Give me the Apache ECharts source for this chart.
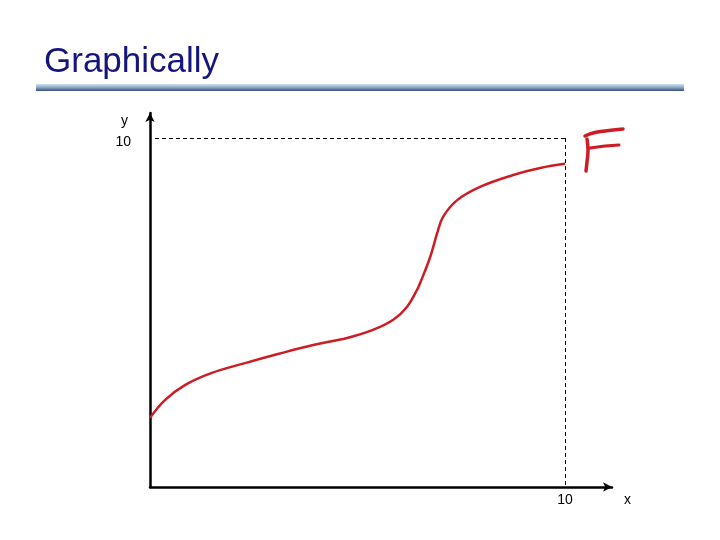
<!DOCTYPE html>
<html>
<head>
<meta charset="utf-8">
<script src="https://cdn.jsdelivr.net/npm/echarts@6/dist/echarts.min.js"></script>
<style>html,body{margin:0;padding:0;background:#fff;}#c{width:720px;height:540px;}</style>
</head>
<body>
<div id="c"></div>
<script>
// Curve F(x)
const xValues = [0, 0.36, 0.84, 1.49, 2.29, 3.08, 3.93, 4.75, 5.37, 5.86, 6.19, 6.43, 6.51, 6.75, 6.92, 7.06, 7.40, 7.95, 8.75, 9.40, 10.0];
const yValues = [1.98, 2.49, 2.92, 3.27, 3.55, 3.81, 4.07, 4.27, 4.50, 4.79, 5.16, 5.64, 5.85, 6.59, 7.28, 7.74, 8.22, 8.60, 8.94, 9.14, 9.26];
const xTickLabels = ['10'];
const yTickLabels = ['10'];
const refX = 10, refY = 10;

const FONT = 'Liberation Sans, Arial, sans-serif';
const chart = echarts.init(document.getElementById('c'), null, {renderer: 'canvas'});
const data = xValues.map((x, i) => [x, yValues[i]]);

chart.setOption({
  animation: false,
  backgroundColor: '#ffffff',
  title: {
    text: 'Graphically',
    left: 44, top: 45, padding: 0,
    textStyle: {fontFamily: FONT, fontSize: 35, fontWeight: 'normal', color: '#15157c'}
  },
  graphic: [
    {type: 'rect', shape: {x: 36, y: 84, width: 648, height: 7},
     style: {fill: new echarts.graphic.LinearGradient(0, 0, 0, 1, [
       {offset: 0, color: '#cfe6ea'}, {offset: 0.5, color: '#8ea6c4'}, {offset: 1, color: '#3b4d7e'}])}},
    // hand-drawn red "F" annotation
    {type: 'polyline', shape: {points: [[585, 136], [593, 133], [605, 131], [623, 129]], smooth: 0.4},
     style: {stroke: '#cc1c24', lineWidth: 3.5, fill: null, lineCap: 'round'}},
    {type: 'polyline', shape: {points: [[587, 139], [588, 150], [587, 162], [586, 171]], smooth: 0.4},
     style: {stroke: '#cc1c24', lineWidth: 3.5, fill: null, lineCap: 'round'}},
    {type: 'polyline', shape: {points: [[590, 148], [605, 146], [619, 145]]},
     style: {stroke: '#cc1c24', lineWidth: 3, fill: null, lineCap: 'round'}}
  ],
  grid: {left: 150, right: 108, top: 113, bottom: 53, containLabel: false},
  xAxis: {
    type: 'value', min: 0, max: 11.13, interval: 10,
    name: '{n|x}', nameLocation: 'end', nameGap: 12,
    nameTextStyle: {fontFamily: FONT, fontSize: 14, color: '#000', align: 'left', verticalAlign: 'middle',
      rich: {n: {fontFamily: FONT, fontSize: 14, color: '#000', padding: [26, 0, 0, 0]}}},
    axisLine: {lineStyle: {color: '#000', width: 2.5}, symbol: ['none', 'arrow'], symbolSize: [7, 9]},
    axisTick: {show: false}, splitLine: {show: false},
    axisLabel: {fontFamily: FONT, fontSize: 14, color: '#000', margin: 6, showMaxLabel: false,
      formatter: v => (v === refX ? xTickLabels[0] : '')}
  },
  yAxis: {
    type: 'value', min: 0, max: 10.716, interval: 10,
    name: 'y', nameLocation: 'end', nameGap: -8,
    nameTextStyle: {fontFamily: FONT, fontSize: 14, color: '#000', align: 'right', verticalAlign: 'middle', padding: [0, 22, 0, 0]},
    axisLine: {lineStyle: {color: '#000', width: 2.5}, symbol: ['none', 'arrow'], symbolSize: [7, 9]},
    axisTick: {show: false}, splitLine: {show: false},
    axisLabel: {fontFamily: FONT, fontSize: 14, color: '#000', margin: 19, showMaxLabel: false,
      formatter: v => (v === refY ? '{t|' + yTickLabels[0] + '}' : ''),
      rich: {t: {fontFamily: FONT, fontSize: 14, color: '#000', padding: [9, 0, 0, 0]}}}
  },
  series: [{
    type: 'line', data: data, smooth: 0.4, showSymbol: false,
    lineStyle: {color: '#cc1c24', width: 2.5},
    markLine: {
      silent: true, symbol: ['none', 'none'], label: {show: false},
      lineStyle: {color: '#000', width: 1, type: [4, 3]},
      data: [
        [{coord: [0.12, refY]}, {coord: [refX, refY]}],
        [{coord: [refX, refY]}, {coord: [refX, 0]}]
      ]
    }
  }]
});
</script>
</body>
</html>
